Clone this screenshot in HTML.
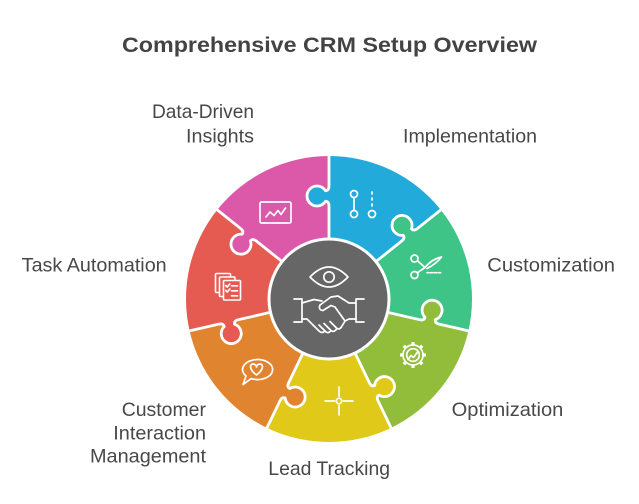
<!DOCTYPE html>
<html>
<head>
<meta charset="utf-8">
<style>
  html,body{margin:0;padding:0;background:#ffffff;}
  body{width:639px;height:504px;overflow:hidden;}
  svg{display:block;}
  .lbl{font-family:"Liberation Sans",Arial,sans-serif;font-size:19.5px;fill:#484848;}
  .ttl{font-family:"Liberation Sans",Arial,sans-serif;font-size:21px;font-weight:bold;fill:#434343;}
  .ic{fill:none;stroke:#ffffff;stroke-width:1.7;stroke-linecap:round;stroke-linejoin:round;}
</style>
</head>
<body>
<svg width="639" height="504" viewBox="0 0 639 504" xmlns="http://www.w3.org/2000/svg">
  <defs>
    <path id="w" d="M60,0 L143,0 A143,143 0 0 1 89.159,111.802 L37.409,46.910 A60,60 0 0 0 60,0 Z"/>
    <path id="k" d="M93,2.5 L93,0 Q97.5,0 97.73,-3.5 A10,10 0 1 1 108.27,-3.5 Q108.5,0 113,0 L113,2.5 Z"/>
    <path id="s" d="M58,0 L93,0 Q97.5,0 97.73,-3.5 A10,10 0 1 1 108.27,-3.5 Q108.5,0 113,0 L146,0"/>
  </defs>

  <!-- Title -->
  <text class="ttl" x="122" y="52" textLength="415" lengthAdjust="spacingAndGlyphs">Comprehensive CRM Setup Overview</text>

  <g transform="translate(329,299)">
    <!-- wedges -->
    <use href="#w" transform="rotate(-90)" fill="#22AADB"/>
    <use href="#w" transform="rotate(-38.571)" fill="#3DC486"/>
    <use href="#w" transform="rotate(12.857)" fill="#92BD3B"/>
    <use href="#w" transform="rotate(64.286)" fill="#E0C918"/>
    <use href="#w" transform="rotate(115.714)" fill="#E08430"/>
    <use href="#w" transform="rotate(167.143)" fill="#E55B52"/>
    <use href="#w" transform="rotate(218.571)" fill="#DC58A8"/>
    <!-- knobs -->
    <use href="#k" transform="rotate(-90)" fill="#22AADB"/>
    <use href="#k" transform="rotate(-38.571)" fill="#3DC486"/>
    <use href="#k" transform="rotate(12.857)" fill="#92BD3B"/>
    <use href="#k" transform="rotate(64.286)" fill="#E0C918"/>
    <use href="#k" transform="rotate(115.714)" fill="#E08430"/>
    <use href="#k" transform="rotate(167.143)" fill="#E55B52"/>
    <use href="#k" transform="rotate(218.571)" fill="#DC58A8"/>
    <!-- white boundaries -->
    <g fill="none" stroke="#ffffff" stroke-width="2.8" stroke-linejoin="round">
      <use href="#s" transform="rotate(-90)"/>
      <use href="#s" transform="rotate(-38.571)"/>
      <use href="#s" transform="rotate(12.857)"/>
      <use href="#s" transform="rotate(64.286)"/>
      <use href="#s" transform="rotate(115.714)"/>
      <use href="#s" transform="rotate(167.143)"/>
      <use href="#s" transform="rotate(218.571)"/>
    </g>
    <!-- center -->
    <circle cx="0" cy="0" r="60" fill="#666666" stroke="#ffffff" stroke-width="3"/>
  </g>

  <!-- center icons: eye -->
  <path class="ic" d="M310,277 Q329,257 348,277 Q329,297 310,277 Z"/>
  <circle class="ic" cx="329" cy="277" r="5.2"/>
  <!-- handshake -->
  <path class="ic" d="M294,299 H302 V322 H294"/>
  <path class="ic" d="M364,299 H356 V322 H364"/>
  <path class="ic" d="M302,303 L314,299.5 L322,301"/>
  <path class="ic" d="M356,303 L349,303 L338,296 L331,297 L320,305 Q318,310 323,310.5 L331,305.5 L335,307 L345,321"/>
  <path class="ic" d="M302,319 L307,319 L319,331 Q322,334 325,331 Q328,334.5 331,330.5 Q334,333 337,328.5 Q340,330 342,326 L345,321 L349,319 L356,319"/>
  <path class="ic" d="M325,331 L319,325 M331,330.5 L324,323.5 M337,328.5 L330,321.5"/>

  <!-- Implementation icon -->
  <circle class="ic" cx="354" cy="194" r="3.5"/>
  <circle class="ic" cx="354" cy="214" r="3.5"/>
  <line class="ic" x1="354" y1="197.5" x2="354" y2="210.5"/>
  <circle class="ic" cx="372" cy="214" r="3.5"/>
  <path class="ic" d="M372,192 V194 M372,198 V200 M372,204 V206"/>

  <!-- Customization icon (scissors) -->
  <circle class="ic" cx="414.5" cy="258.5" r="3.5"/>
  <circle class="ic" cx="414.5" cy="275" r="3.5"/>
  <path class="ic" d="M417.3,260.6 L425,267.5"/>
  <path class="ic" d="M417.3,272.8 L425,267.5 Q432,259 441.5,257 Q436,264 427,268.5"/>
  <path class="ic" d="M427,272.7 H442" stroke-dasharray="2.2,1.6"/>

  <!-- Optimization icon (gear) -->
  <circle class="ic" cx="413" cy="355" r="10"/>
  <g stroke="#ffffff" stroke-width="3.2" stroke-linecap="butt">
    <line x1="413" y1="342" x2="413" y2="345.5"/>
    <line x1="413" y1="364.5" x2="413" y2="368"/>
    <line x1="400" y1="355" x2="403.5" y2="355"/>
    <line x1="422.5" y1="355" x2="426" y2="355"/>
    <line x1="403.8" y1="345.8" x2="406.3" y2="348.3"/>
    <line x1="419.7" y1="361.7" x2="422.2" y2="364.2"/>
    <line x1="422.2" y1="345.8" x2="419.7" y2="348.3"/>
    <line x1="406.3" y1="361.7" x2="403.8" y2="364.2"/>
  </g>
  <circle class="ic" cx="413" cy="355" r="6.3" stroke-width="1.4"/>
  <path class="ic" d="M408,359.5 L411,355.5 L413.5,357.5 L418,351.5" stroke-width="1.4"/>

  <!-- Lead Tracking icon (crosshair) -->
  <circle class="ic" cx="339" cy="401" r="2.7"/>
  <path class="ic" d="M325,401 H334.5 M343.5,401 H353 M339,387 V396.5 M339,405.5 V415"/>

  <!-- Customer Interaction icon (speech bubble + heart) -->
  <path class="ic" d="M251.2,378.6 A15,10 0 1 0 246,375.9 L243,384.5 Z"/>
  <path class="ic" d="M256.5,375 C249,369.5 249.5,364 253,364 C255,364 256.5,365.5 256.5,367 C256.5,365.5 258,364 260,364 C263.5,364 264,369.5 256.5,375 Z"/>

  <!-- Task Automation icon (documents) -->
  <rect x="215.5" y="273.5" width="15" height="19" rx="1" fill="#E55B52" stroke="#fff" stroke-width="1.6"/>
  <rect x="219.5" y="277" width="15.5" height="19.5" rx="1" fill="#E55B52" stroke="#fff" stroke-width="1.6"/>
  <rect x="223.5" y="280.5" width="17" height="19.5" rx="1" fill="#E55B52" stroke="#fff" stroke-width="1.6"/>
  <path class="ic" stroke-width="1.4" d="M225.8,285.5 L227.2,287 L229.8,284 M231.5,285.8 H237.5 M225.8,290.5 L227.2,292 L229.8,289 M231.5,290.8 H237.5 M231.5,295.8 H237.5"/>

  <!-- Data-Driven Insights icon (chart) -->
  <rect class="ic" x="260" y="202" width="31" height="21" rx="1.5"/>
  <path class="ic" d="M266,217 L270,212 L274,215.5 L278,210.5 L281,214.5 L285.5,208"/>

  <!-- Labels -->
  <text class="lbl" x="152" y="118" textLength="102" lengthAdjust="spacingAndGlyphs">Data-Driven</text>
  <text class="lbl" x="186" y="142.7" textLength="68" lengthAdjust="spacingAndGlyphs">Insights</text>
  <text class="lbl" x="403" y="142.7" textLength="134" lengthAdjust="spacingAndGlyphs">Implementation</text>
  <text class="lbl" x="21.7" y="271.7" textLength="145" lengthAdjust="spacingAndGlyphs">Task Automation</text>
  <text class="lbl" x="487.3" y="271.7" textLength="127.7" lengthAdjust="spacingAndGlyphs">Customization</text>
  <text class="lbl" x="121.7" y="416" textLength="84.3" lengthAdjust="spacingAndGlyphs">Customer</text>
  <text class="lbl" x="113.3" y="439.3" textLength="92.7" lengthAdjust="spacingAndGlyphs">Interaction</text>
  <text class="lbl" x="90" y="462.7" textLength="116" lengthAdjust="spacingAndGlyphs">Management</text>
  <text class="lbl" x="451.7" y="416" textLength="111.6" lengthAdjust="spacingAndGlyphs">Optimization</text>
  <text class="lbl" x="268.3" y="475" textLength="121.7" lengthAdjust="spacingAndGlyphs">Lead Tracking</text>
</svg>
</body>
</html>
